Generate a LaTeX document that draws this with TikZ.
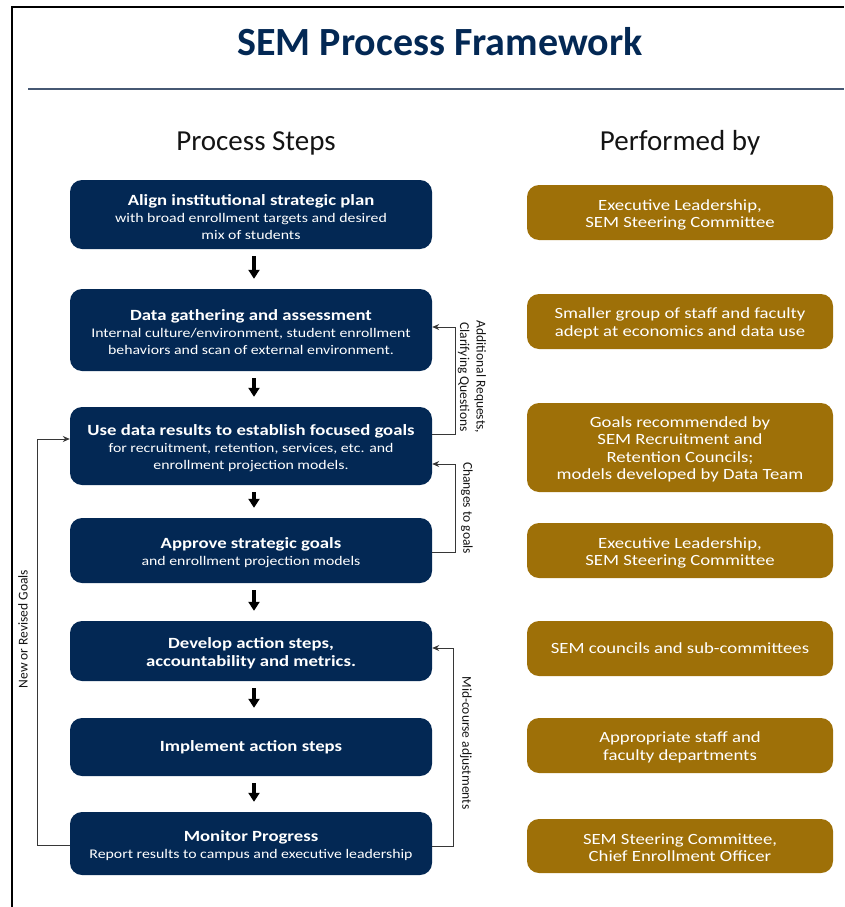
\documentclass[tikz,border=0pt]{standalone}
\usepackage{fontspec}
\setmainfont{Carlito}
\newfontfamily\boxfont{Carlito}[FakeStretch=1.2]
\usetikzlibrary{arrows.meta}
\definecolor{navy}{RGB}{3,40,84}
\definecolor{gold}{RGB}{158,112,8}
\definecolor{ink}{RGB}{20,20,20}
\definecolor{rulecol}{RGB}{70,88,115}
\definecolor{fbline}{RGB}{55,55,55}
% bold first line of a process step
\newcommand\stephead[1]{{\bfseries\fontsize{15.6}{17}\selectfont #1}}
\begin{document}
\begin{tikzpicture}[x=1pt,y=-1pt,
  stepbox/.style={fill=navy, rounded corners=12pt, minimum width=362pt,
    inner sep=0pt},
  whobox/.style={fill=gold, rounded corners=12pt, minimum width=306pt,
    inner sep=0pt},
  steptext/.style={text=white, align=center, inner sep=0pt,
    font=\boxfont\fontsize{13.2}{17}\selectfont},
  boldtext/.style={steptext, font=\boxfont\bfseries\fontsize{15.6}{18}\selectfont},
  whotext/.style={text=white, align=center, inner sep=0pt,
    font=\boxfont\fontsize{15.6}{17.5}\selectfont},
  flow/.style={line width=3.2pt, -{Triangle[width=11pt,length=9pt]},
    shorten <=7pt, shorten >=10pt},
  fb/.style={draw=fbline, line width=1pt},
  fbarrow/.style={fb, -{Stealth[length=7pt,width=6pt]}},
  note/.style={font=\fontsize{13.5}{16.5}\selectfont, text=ink,
    inner sep=0pt, align=center}
]
\useasboundingbox (0,0) rectangle (844,907);

% frame and title rule
\draw[line width=2pt] (12,907) -- (12,7) -- (844,7);
\draw[rulecol, line width=1.5pt] (28,89) -- (844,89);

\node[font=\fontsize{40}{44}\selectfont\bfseries, text=navy] (title) at (440,42) {SEM Process Framework};
\node[font=\fontsize{29}{32}\selectfont, text=ink] (hsteps) at (256,143) {Process Steps};
\node[font=\fontsize{29}{32}\selectfont, text=ink] (hwho) at (680,143) {Performed by};

% process steps: boxes
\node[stepbox, minimum height=69pt] (b1) at (251,214.5) {};
\node[stepbox, minimum height=82pt] (b2) at (251,330) {};
\node[stepbox, minimum height=78pt] (b3) at (251,446) {};
\node[stepbox, minimum height=65pt] (b4) at (251,550.5) {};
\node[stepbox, minimum height=60pt] (b5) at (251,651) {};
\node[stepbox, minimum height=58pt] (b6) at (251,747) {};
\node[stepbox, minimum height=63pt] (b7) at (251,843.5) {};

% process steps: texts
\node[steptext] (t1) at ([yshift=-2.5pt]b1.center)
  {\stephead{Align institutional strategic plan}\\ with broad enrollment targets and desired\\ mix of students};
\node[steptext] (t2) at ([yshift=-2.5pt]b2.center)
  {\stephead{Data gathering and assessment}\\ Internal culture/environment, student enrollment\\ behaviors and scan of external environment.};
\node[steptext] (t3) at ([yshift=-2.5pt]b3.center)
  {\stephead{Use data results to establish focused goals}\\ for recruitment, retention, services, etc. and\\ enrollment projection models.};
\node[steptext] (t4) at ([yshift=-2.5pt]b4.center)
  {\stephead{Approve strategic goals}\\ and enrollment projection models};
\node[boldtext] (t5) at ([yshift=-2.5pt]b5.center)
  {Develop action steps,\\ accountability and metrics.};
\node[boldtext] (t6) at (b6.center) {Implement action steps};
\node[steptext] (t7) at ([yshift=-2pt]b7.center)
  {\stephead{Monitor Progress}\\ Report results to campus and executive leadership};

% performed by
\node[whobox, minimum height=55pt] (r1) at (680,212.5) {};
\node[whobox, minimum height=55pt] (r2) at (680,321.5) {};
\node[whobox, minimum height=89pt] (r3) at (680,447.5) {};
\node[whobox, minimum height=55pt] (r4) at (680,550.5) {};
\node[whobox, minimum height=55pt] (r5) at (680,648.5) {};
\node[whobox, minimum height=55pt] (r6) at (680,745.5) {};
\node[whobox, minimum height=54pt] (r7) at (680,846) {};
\node[whotext] (w1) at ([yshift=-2.5pt]r1.center) {Executive Leadership,\\SEM Steering Committee};
\node[whotext] (w2) at ([yshift=-2pt]r2.center) {Smaller group of staff and faculty\\adept at economics and data use};
\node[whotext] (w3) at ([yshift=-2pt]r3.center) {Goals recommended by\\SEM Recruitment and\\Retention Councils;\\models developed by Data Team};
\node[whotext] (w4) at ([yshift=-2.5pt]r4.center) {Executive Leadership,\\SEM Steering Committee};
\node[whotext] (w5) at (r5.center) {SEM councils and sub-committees};
\node[whotext] (w6) at ([yshift=-2pt]r6.center) {Appropriate staff and\\faculty departments};
\node[whotext] (w7) at ([yshift=-1.5pt]r7.center) {SEM Steering Committee,\\Chief Enrollment Officer};

% main flow
\foreach \a/\b in {b1/b2,b2/b3,b3/b4,b4/b5,b5/b6,b6/b7}
  \draw[flow] ([xshift=3pt]\a.south) -- ([xshift=3pt]\b.north);

% feedback loops
\draw[fbarrow] ([yshift=12pt]b3.east) -- ++(23,0) |- ([yshift=3pt]b2.east);
\draw[fbarrow] ([yshift=-1.5pt]b4.east) -- ++(23,0) |- ([yshift=-18pt]b3.east);
\draw[fbarrow] ([yshift=-2.5pt]b7.east) -- ++(21,0) |- ([yshift=3pt]b5.east);
\draw[fbarrow] ([yshift=-1.5pt]b7.west) -- ++(-32,0) |- ([yshift=7pt]b3.west);

\node[note, rotate=-90] (lreq) at (472,377) {Additional Requests,\\Clarifying Questions};
\node[note, rotate=-90] (lchg) at (467,508) {Changes to goals};
\node[note, rotate=-90] (lmid) at (466,743) {Mid-course adjustments};
\node[note, rotate=90] (lnew) at (23,629) {New or Revised Goals};
\end{tikzpicture}
\end{document}
